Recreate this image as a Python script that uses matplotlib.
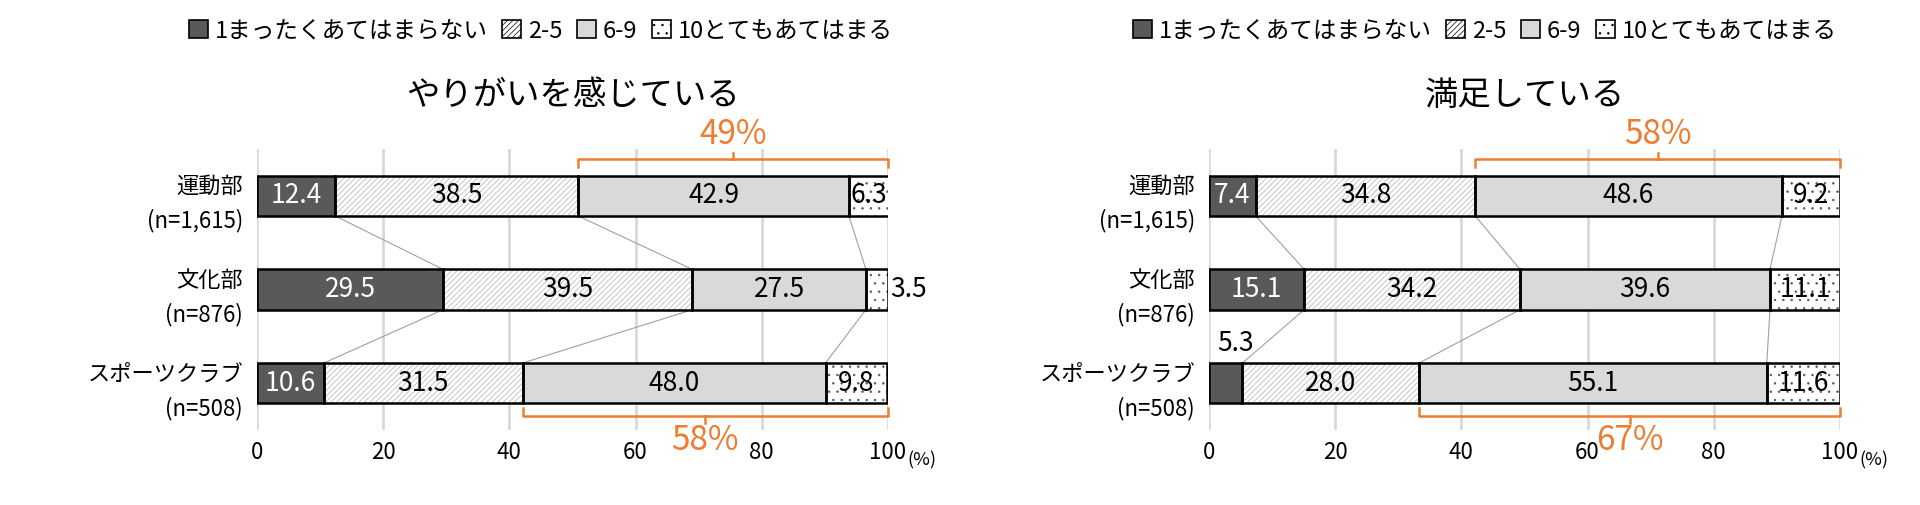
import matplotlib
matplotlib.use("Agg")
import matplotlib.pyplot as plt
import numpy as np

plt.rcParams['font.family'] = 'Noto Sans CJK JP'
plt.rcParams['hatch.linewidth'] = 0.5

categories = ["運動部\n(n=1,615)", "文化部\n(n=876)", "スポーツクラブ\n(n=508)"]
series_names = ["1まったくあてはまらない", "2-5", "6-9", "10とてもあてはまる"]
left_title = "やりがいを感じている"
left_vals = [[12.4, 38.5, 42.9, 6.3], [29.5, 39.5, 27.5, 3.5], [10.6, 31.5, 48.0, 9.8]]
right_title = "満足している"
right_vals = [[7.4, 34.8, 48.6, 9.2], [15.1, 34.2, 39.6, 11.1], [5.3, 28.0, 55.1, 11.6]]
left_brackets = [("49%", 0), ("58%", 2)]
right_brackets = [("58%", 0), ("67%", 2)]

face = ["#595959", "white", "#d9d9d9", "white"]
hatch = [None, "//////", None, ".."]
hcol = ["#595959", "#b0b0b0", "#d9d9d9", "#555555"]
orange = "#ed7d31"

fig = plt.figure(figsize=(19.2, 5.05), dpi=100)

def panel(x0, legx, vals, title, brackets):
    ax = fig.add_axes([x0 / 1920, 1 - 430 / 505, 631 / 1920, (430 - 149) / 505])
    for i, row in enumerate(vals):
        left = 0
        for j, v in enumerate(row):
            ax.barh(i, v, left=left, height=0.43, color=face[j], edgecolor=hcol[j],
                    hatch=hatch[j], linewidth=0, zorder=3)
            ax.barh(i, v, left=left, height=0.43, fill=False, edgecolor="black",
                    linewidth=1.8, zorder=4)
            col = "white" if j == 0 else "black"
            txt = f"{v:.1f}"
            if i == 2 and j == 0 and v < 6:
                ax.text(left + v / 2 + 1.5, i - 0.42, txt, ha="center", va="center", fontsize=19, zorder=6)
            elif v < 4.5:
                ax.text(left + v + 0.3, i, txt, ha="left", va="center", fontsize=19, zorder=6)
            else:
                ax.text(left + v / 2, i, txt, ha="center", va="center", fontsize=19, color=col, zorder=6)
            left += v
    for i in range(len(vals) - 1):
        c1 = np.cumsum(vals[i]); c2 = np.cumsum(vals[i + 1])
        for k in range(3):
            ax.plot([c1[k], c2[k]], [i + 0.215, i + 1 - 0.215], color="#a0a0a0", lw=0.8, zorder=2)
    for lab, bi in brackets:
        s = np.cumsum(vals[bi])[1]
        mid = (s + 100) / 2
        if bi == 0:
            yb = -0.39
            ax.plot([s, s, 100, 100], [yb + 0.08, yb, yb, yb + 0.08], color=orange, lw=1.8, clip_on=False)
            ax.plot([mid, mid], [yb, yb - 0.07], color=orange, lw=1.8, clip_on=False)
            ax.text(mid, yb - 0.27, lab, ha="center", va="center", fontsize=24, color=orange)
        else:
            yb = 2.35
            ax.plot([s, s, 100, 100], [yb - 0.08, yb, yb, yb - 0.08], color=orange, lw=1.8, clip_on=False)
            ax.plot([mid, mid], [yb, yb + 0.07], color=orange, lw=1.8, clip_on=False)
            ax.text(mid, yb + 0.26, lab, ha="center", va="center", fontsize=24, color=orange, zorder=7)
    ax.set_xlim(0, 100)
    ax.set_ylim(2.5, -0.5)
    ax.set_xticks(range(0, 101, 20))
    ax.tick_params(axis="x", length=0, labelsize=16, pad=8)
    ax.set_yticks([0, 1, 2])
    ax.set_yticklabels(categories, fontsize=16, linespacing=1.6)
    ax.tick_params(axis="y", length=0, pad=10)
    ax.grid(axis="x", color="#d9d9d9", lw=2, zorder=0)
    for sp in ax.spines.values():
        sp.set_visible(False)
    ax.text(103, 2.82, "(%)", fontsize=13, va="center")
    ax.text(50, -1.07, title, ha="center", va="center", fontsize=24)
    handles = [matplotlib.patches.Patch(facecolor=face[j], edgecolor="black", hatch=hatch[j], lw=1.2)
               for j in range(4)]
    fig.legend(handles, series_names, loc="center", bbox_to_anchor=(legx / 1920, 1 - 31 / 505),
               ncol=4, frameon=False, fontsize=17, handlelength=0.8, handleheight=0.8,
               columnspacing=0.6, handletextpad=0.3)
    return ax

panel(257, 541, left_vals, left_title, left_brackets)
panel(1209, 1485, right_vals, right_title, right_brackets)
fig.savefig("out.png", dpi=100)
